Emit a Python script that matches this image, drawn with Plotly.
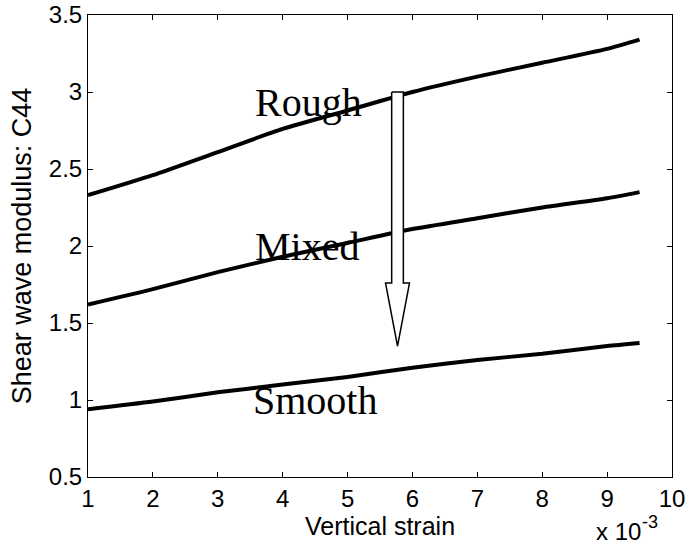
import plotly.graph_objects as go

# Vertical strain (units of 1e-3)
strain = [1, 2, 3, 4, 5, 6, 7, 8, 9, 9.5]

# Shear wave modulus C44 for each joint surface type
rough = [2.33, 2.46, 2.61, 2.76, 2.88, 3.00, 3.10, 3.19, 3.28, 3.34]
mixed = [1.62, 1.72, 1.83, 1.93, 2.02, 2.11, 2.18, 2.25, 2.31, 2.35]
smooth = [0.94, 0.99, 1.05, 1.10, 1.15, 1.21, 1.26, 1.30, 1.35, 1.37]

series_names = ["Rough", "Mixed", "Smooth"]
label_x = [4.4, 4.38, 4.5]
label_y = [2.93, 2.0, 1.0]

x_ticks = [1, 2, 3, 4, 5, 6, 7, 8, 9, 10]
y_ticks = [0.5, 1, 1.5, 2, 2.5, 3, 3.5]

# Hollow downward arrow: centre, top, shaft end, tip, half-widths
arrow_cx = 5.77
arrow_top, arrow_neck, arrow_tip = 3.0, 1.76, 1.35
shaft_hw, head_hw = 0.09, 0.185

fig = go.Figure()

for ys in (rough, mixed, smooth):
    fig.add_trace(go.Scatter(x=strain, y=ys, mode="lines",
                             line=dict(color="black", width=4, shape="spline",
                                       smoothing=0.6),
                             showlegend=False, hoverinfo="skip"))

ax = [arrow_cx - shaft_hw, arrow_cx + shaft_hw, arrow_cx + shaft_hw,
      arrow_cx + head_hw, arrow_cx, arrow_cx - head_hw,
      arrow_cx - shaft_hw, arrow_cx - shaft_hw]
ay = [arrow_top, arrow_top, arrow_neck, arrow_neck, arrow_tip,
      arrow_neck, arrow_neck, arrow_top]
fig.add_trace(go.Scatter(x=ax, y=ay, mode="lines", fill="toself",
                         fillcolor="white", line=dict(color="black", width=1.5),
                         showlegend=False, hoverinfo="skip"))

for name, lx, ly in zip(series_names, label_x, label_y):
    fig.add_annotation(x=lx, y=ly, text=name, showarrow=False,
                       font=dict(family="Liberation Serif", size=40, color="black"),
                       xanchor="center", yanchor="middle")

# Exponent note for the strain axis: base and raised power
fig.add_annotation(xref="paper", yref="paper", x=0.949, y=-0.15,
                   text="x 10", showarrow=False,
                   xanchor="right", yanchor="bottom", borderpad=0,
                   font=dict(family="Liberation Sans", size=24, color="black"))
fig.add_annotation(xref="paper", yref="paper", x=0.947, y=-0.074,
                   text="-3", showarrow=False,
                   xanchor="left", yanchor="top", borderpad=0,
                   font=dict(family="Liberation Sans", size=18, color="black"))

axis_common = dict(showgrid=False, zeroline=False, showline=True,
                   linecolor="black", linewidth=1, mirror="ticks",
                   ticks="inside", ticklen=5, tickcolor="black",
                   automargin=False,
                   tickfont=dict(family="Liberation Sans", size=24, color="black"))

fig.update_xaxes(range=[1, 10], tickvals=x_ticks,
                 ticktext=[str(v) for v in x_ticks],
                 title=dict(text="Vertical strain", standoff=0,
                            font=dict(family="Liberation Sans", size=25, color="black")),
                 **axis_common)
fig.update_yaxes(range=[0.5, 3.5], tickvals=y_ticks,
                 ticktext=[("%g" % v) for v in y_ticks],
                 title=dict(text="Shear wave modulus: C44", standoff=9,
                            font=dict(family="Liberation Sans", size=27, color="black")),
                 **axis_common)

fig.update_layout(width=688, height=551,
                  margin=dict(l=88, r=16, t=15, b=74),
                  plot_bgcolor="white", paper_bgcolor="white")

fig.write_html("out.html")
